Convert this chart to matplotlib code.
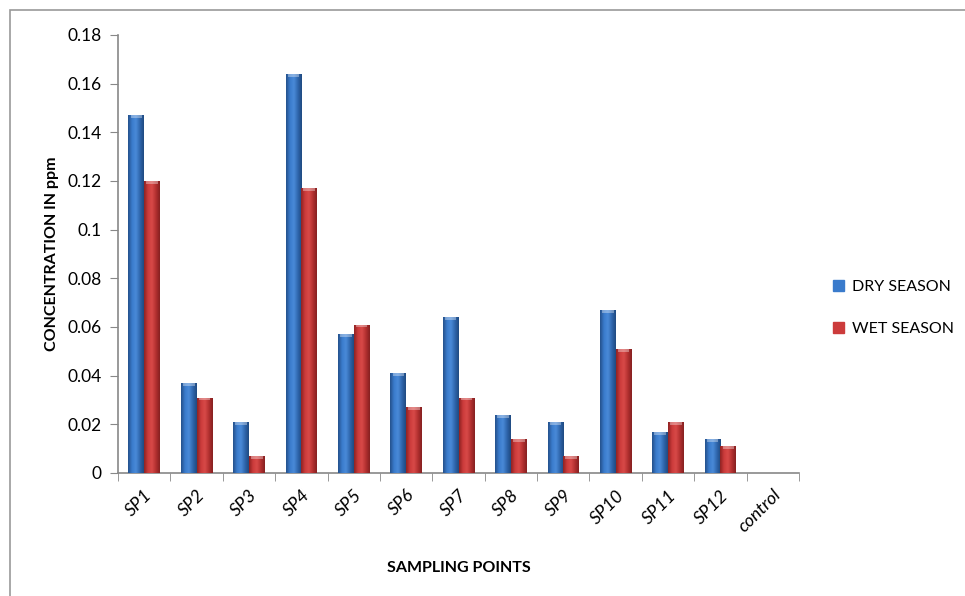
import numpy as np
import matplotlib
matplotlib.use('Agg')
import matplotlib.pyplot as plt
from matplotlib.colors import LinearSegmentedColormap
from matplotlib.patches import Rectangle

plt.rcParams['font.family'] = ['Lato', 'DejaVu Sans']

categories = ['SP1', 'SP2', 'SP3', 'SP4', 'SP5', 'SP6', 'SP7', 'SP8', 'SP9',
              'SP10', 'SP11', 'SP12', 'control']
dry = [0.147, 0.037, 0.021, 0.164, 0.057, 0.041, 0.064, 0.024, 0.021,
       0.067, 0.017, 0.014, 0.0]
wet = [0.120, 0.031, 0.007, 0.117, 0.061, 0.027, 0.031, 0.014, 0.007,
       0.051, 0.021, 0.011, 0.0]
yticks = [0, 0.02, 0.04, 0.06, 0.08, 0.1, 0.12, 0.14, 0.16, 0.18]
ytick_labels = ['0', '0.02', '0.04', '0.06', '0.08', '0.1', '0.12', '0.14', '0.16', '0.18']

BLUE = ['#24508a', '#3a7bcc', '#4a8ad8', '#2f66ad', '#1f4a80']
RED = ['#8e2222', '#cc3b3b', '#d84a48', '#b33030', '#852020']

fig = plt.figure(figsize=(9.65, 5.96), dpi=100)
ax = fig.add_axes([0.1223, 0.2064, 0.7057, 0.7349])

x = np.arange(len(categories))
w = 0.3
grad = np.linspace(0, 1, 64).reshape(1, -1)


def bevel_bars(xpos, vals, cols):
    cmap = LinearSegmentedColormap.from_list('b', cols)
    bars = ax.bar(xpos, vals, width=w, color=cols[1], linewidth=0, zorder=2)
    for b in bars:
        h = b.get_height()
        if h <= 0:
            continue
        x0 = b.get_x()
        im = ax.imshow(grad, cmap=cmap, aspect='auto', zorder=3,
                       extent=[x0, x0 + w, 0, h], interpolation='bicubic')
        im.set_clip_path(b)
        # light bevel at the top
        ax.add_patch(Rectangle((x0 + 0.04, h - 0.0012), w - 0.08, 0.0012,
                               color='white', alpha=0.35, lw=0, zorder=4))
    return bars


bevel_bars(x - w / 2, dry, BLUE)
bevel_bars(x + w / 2, wet, RED)

ax.set_xlim(-0.5, len(categories) - 0.5)
ax.set_ylim(0, 0.18)
ax.set_yticks(yticks)
ax.set_yticklabels(ytick_labels, fontsize=12.5)
ax.set_xticks(x)
ax.set_xticklabels(categories, rotation=45, ha='right', rotation_mode='anchor',
                   fontsize=13, style='italic')
ax.set_xticks(np.arange(-0.5, len(categories)), minor=True)
ax.tick_params(axis='x', which='major', length=0, pad=10)
ax.tick_params(axis='x', which='minor', length=6, color='#888888')
ax.tick_params(axis='y', length=6, color='#888888', pad=6)

for s in ['top', 'right']:
    ax.spines[s].set_visible(False)
for s in ['left', 'bottom']:
    ax.spines[s].set_color('#888888')
    ax.spines[s].set_linewidth(1.2)

ax.set_ylabel('CONCENTRATION IN ppm', fontsize=11.5, fontweight='bold', labelpad=6)
ax.set_xlabel('SAMPLING POINTS', fontsize=11.5, fontweight='bold', labelpad=18)

handles = [Rectangle((0, 0), 1, 1, color=BLUE[1]), Rectangle((0, 0), 1, 1, color=RED[1])]
fig.legend(handles, ['DRY SEASON', 'WET SEASON'], loc='center left',
           bbox_to_anchor=(0.848, 0.483), frameon=False, fontsize=11.5,
           handlelength=0.7, handleheight=0.7, handletextpad=0.5, labelspacing=1.75)

fig.patches.append(Rectangle((0.0105, -0.01), 1.0, 0.993, transform=fig.transFigure,
                             fill=False, edgecolor='#999999', lw=1.2))

fig.savefig('out.png', dpi=100)
